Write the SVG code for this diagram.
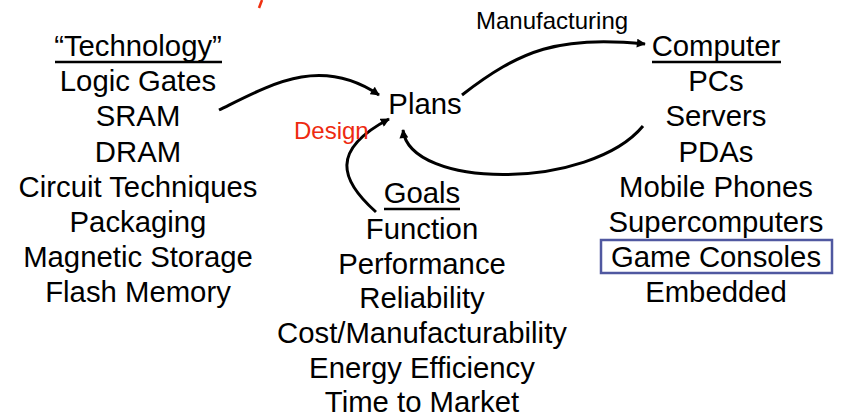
<svg xmlns="http://www.w3.org/2000/svg" width="841" height="417" viewBox="0 0 841 417">
<defs>
<style>
text{font-family:"Liberation Sans",Arial,sans-serif;fill:#000;}
.t{font-size:29.3px;text-anchor:middle;}
.lbl{font-size:24px;}
.ul{stroke:#000;stroke-width:2.5;}
.c{fill:none;stroke:#000;stroke-width:3;}
</style>
<marker id="ah" viewBox="0 0 10 10" refX="9" refY="5" markerWidth="10" markerHeight="9" markerUnits="userSpaceOnUse" orient="auto">
<path d="M0,0 L10,5 L0,10 z" fill="#000"/>
</marker>
</defs>
<rect width="841" height="417" fill="#fff"/>
<line x1="262" y1="0" x2="259" y2="8" stroke="#f03010" stroke-width="2.5"/>
<g id="technology">
<text class="t" x="138" y="56">“Technology”</text>
<line class="ul" x1="55" y1="62" x2="222" y2="62"/>
<text class="t" x="138" y="91">Logic Gates</text>
<text class="t" x="138" y="126">SRAM</text>
<text class="t" x="138" y="162">DRAM</text>
<text class="t" x="138" y="197">Circuit Techniques</text>
<text class="t" x="138" y="232">Packaging</text>
<text class="t" x="138" y="267">Magnetic Storage</text>
<text class="t" x="138" y="302">Flash Memory</text>
</g>
<g id="plans">
<text class="t" x="425" y="114">Plans</text>
</g>
<g id="goals">
<text class="t" x="422" y="203">Goals</text>
<line class="ul" x1="384" y1="209" x2="460" y2="209"/>
<text class="t" x="422" y="239">Function</text>
<text class="t" x="422" y="274">Performance</text>
<text class="t" x="422" y="308">Reliability</text>
<text class="t" x="422" y="343">Cost/Manufacturability</text>
<text class="t" x="422" y="378">Energy Efficiency</text>
<text class="t" x="422" y="412">Time to Market</text>
</g>
<g id="computer">
<text class="t" x="716" y="56">Computer</text>
<line class="ul" x1="652" y1="62" x2="781" y2="62"/>
<text class="t" x="716" y="91">PCs</text>
<text class="t" x="716" y="126">Servers</text>
<text class="t" x="716" y="162">PDAs</text>
<text class="t" x="716" y="197">Mobile Phones</text>
<text class="t" x="716" y="232">Supercomputers</text>
<rect x="601" y="240" width="231" height="33" fill="none" stroke="#5058a0" stroke-width="2.5"/>
<text class="t" x="716" y="267">Game Consoles</text>
<text class="t" x="716" y="302">Embedded</text>
</g>
<g id="connectors">
<path class="c" d="M219,110 C270,85 320,55 379,95" marker-end="url(#ah)"/>
<path class="c" d="M376,212 C340,180 330,150 389,119" marker-end="url(#ah)"/>
<path class="c" d="M643,126 C590,190 410,190 403,130" marker-end="url(#ah)"/>
<path class="c" d="M462,95 C520,50 560,35 645,44" marker-end="url(#ah)"/>
<text class="lbl" x="294" y="139" style="fill:#ee2a10">Design</text>
<text class="lbl" x="476" y="29">Manufacturing</text>
</g>
</svg>
